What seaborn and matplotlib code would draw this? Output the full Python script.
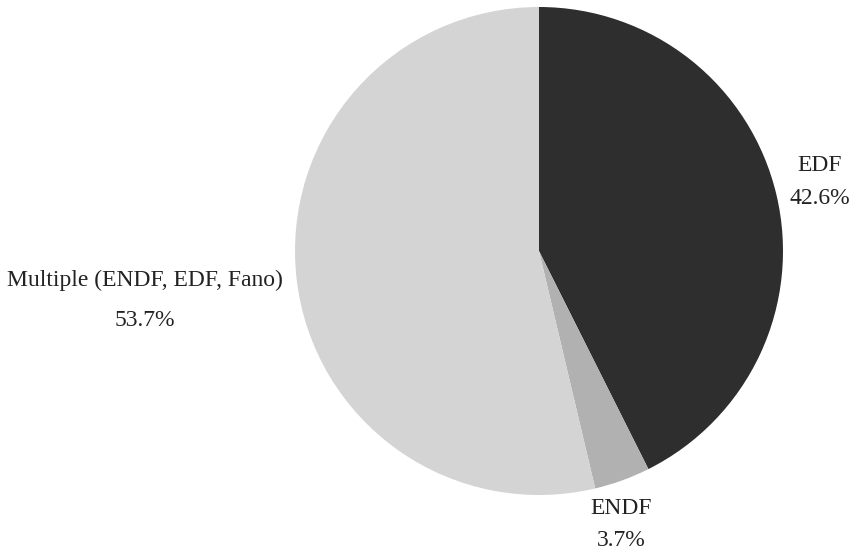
import matplotlib
matplotlib.use("Agg")
import matplotlib.pyplot as plt
import seaborn as sns

categories = ["EDF", "ENDF", "Multiple (ENDF, EDF, Fano)"]
shares = [42.6, 3.7, 53.7]
colors = ["#2e2e2e", "#b1b1b1", "#d4d4d4"]

sns.set_theme(style="white")
plt.rcParams['font.family'] = ['Liberation Serif', 'DejaVu Serif']

W, H = 855, 550
fig = plt.figure(figsize=(W / 100, H / 100), dpi=100)
cx, cy, r = 539, 251, 244
ax = fig.add_axes([(cx - r) / W, (H - cy - r) / H, 2 * r / W, 2 * r / H])
ax.pie(shares, colors=colors, startangle=90, counterclock=False, radius=1,
       wedgeprops=dict(linewidth=0))
ax.set_xlim(-1, 1)
ax.set_ylim(-1, 1)
ax.axis("off")

txt = dict(ha="center", va="center", fontsize=17, color="#222222")
# label positions in pixels (x, y of first line, y of second line)
label_pos = [(820, 166, 199), (621, 508, 540), (145, 280, 320)]
for name, val, (x, y1, y2) in zip(categories, shares, label_pos):
    fig.text(x / W, 1 - y1 / H, name, **txt)
    fig.text(x / W, 1 - y2 / H, "%.1f%%" % val, **txt)

fig.savefig("out.png", dpi=100)
